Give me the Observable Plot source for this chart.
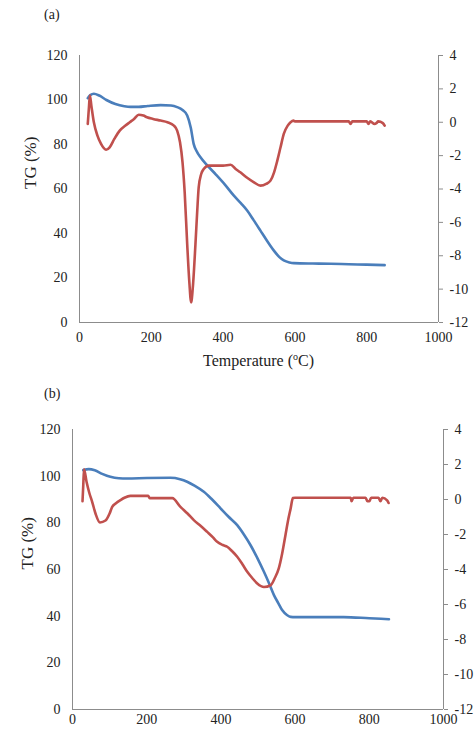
<!DOCTYPE html>
<html><head><meta charset="utf-8">
<script src="https://cdn.jsdelivr.net/npm/d3@7"></script>
<script src="https://cdn.jsdelivr.net/npm/@observablehq/plot@0.6"></script>
<style>
body{margin:0;background:#fff;font-family:"Liberation Serif","Times New Roman",serif;width:476px;color:#222;}
.tag{font-size:14px;padding-left:44px;}
#tagA{height:30px;line-height:30px;}
#tagB{height:36px;line-height:44px;overflow:visible;}
.xlabel{height:22px;line-height:22px;font-size:16px;padding-left:79px;width:359px;text-align:center;}
.xlabel sup{font-size:10px;line-height:0;vertical-align:6px;}
svg{display:block;}
</style></head><body>
<div id="tagA" class="tag">(a)</div>
<div id="chartA"></div>
<div class="xlabel">Temperature (<sup>o</sup>C)</div>
<div id="tagB" class="tag">(b)</div>
<div id="chartB"></div>
<script>
// ---- tick labels ----
const xTicks = [0, 200, 400, 600, 800, 1000];
const tgTicks = [0, 20, 40, 60, 80, 100, 120];
const dtgTicks = [-12, -10, -8, -6, -4, -2, 0, 2, 4];

// ---- panel (a) ----
const tempA_TG = [23,30,40,55,75,100,125,142,165,190,226,255,272,287,300,310,318,328,337,356,380,405,430,450,467,485,504,520,541,556,569,585,597,650,700,750,800,850];
const tgA      = [100.8,102.2,102.8,102.0,100.0,98.2,97.2,96.9,96.9,97.3,97.7,97.5,96.8,95.5,93,87.5,80.3,76.5,74.3,70.6,66.5,62,57,53.5,50.3,46,41.3,37.3,32.4,29.5,27.9,27,26.7,26.5,26.4,26.2,26.0,25.8];
const tempA_DTG = [23,26,29,33,40,50,60,74,84,97,112,128,140,152,165,178,188,205,226,245,263,272,280,287,293,300,306,311,316,323,328,332,339,346,360,380,400,421,435,448,465,486,504,520,532,542,551,560,569,580,588,596,600,700,750,755,760,800,805,810,822,827,832,845,850];
const dtgA      = [-0.1,0.8,1.6,1.0,0.0,-0.8,-1.3,-1.65,-1.5,-1.0,-0.5,-0.2,0.0,0.2,0.45,0.4,0.3,0.2,0.1,0.0,-0.2,-0.5,-1.2,-2.4,-4.2,-7.3,-9.6,-10.8,-9.8,-7.3,-5.3,-3.9,-3.1,-2.8,-2.6,-2.6,-2.6,-2.55,-2.8,-3.0,-3.3,-3.6,-3.8,-3.7,-3.5,-3.0,-2.3,-1.5,-0.7,-0.2,0.0,0.1,0.05,0.05,0.05,-0.1,0.05,0.05,-0.1,0.05,-0.1,-0.05,0.05,-0.05,-0.2];

// ---- panel (b) ----
const tempB_TG = [29,44,60,80,102,125,147,200,264,290,309,330,354,375,399,420,444,462,480,498,516,530,543,555,565,578,588,600,731,800,853];
const tgB      = [102.6,103,102.5,101,99.7,99.1,99,99.2,99.3,98.7,97.6,95.8,93.3,90.2,86.2,82.7,79,75,70.4,65,59,54,49,45.5,42.6,40.5,39.7,39.6,39.6,39.1,38.7];
const tempB_DTG = [27,29,31,38,45,53,62,74,89,100,107,118,129,140,156,204,208,269,291,310,327,345,363,378,390,405,417,430,444,458,471,485,498,516,534,545,556,565,574,581,588,594,600,750,752,757,790,795,800,805,825,830,835,848,852];
const dtgB      = [-0.1,0.8,1.73,1.0,0.4,-0.13,-0.8,-1.31,-1.2,-0.8,-0.42,-0.2,-0.04,0.1,0.21,0.21,0.08,0.08,-0.42,-0.8,-1.18,-1.5,-1.85,-2.15,-2.42,-2.6,-2.7,-2.95,-3.27,-3.7,-4.13,-4.5,-4.8,-5.0,-4.9,-4.5,-3.94,-3.1,-2.04,-1.2,-0.51,0.08,0.1,0.1,-0.1,0.1,0.1,-0.1,-0.1,0.1,0.1,-0.1,0.1,-0.05,-0.2];

const k = 120 / 16; // DTG (-12..4) mapped onto TG (0..120) frame
const toLeft = v => (v + 12) * k;

const BLUE = "#4a7ebb", RED = "#c0504d", AX = "#8c8c8c";

function panel(tT, tg, tD, dtg, m) {
  const tgData = tT.map((t, i) => ({t, v: tg[i]}));
  const dtgData = tD.map((t, i) => ({t, v: dtg[i]}));
  return Plot.plot({
    width: 476, height: m.height,
    marginTop: m.top, marginBottom: m.bottom, marginLeft: m.left, marginRight: m.right,
    style: {fontFamily: "'Liberation Serif','Times New Roman',serif", fontSize: "14px", color: "#222", background: "#fff"},
    x: {domain: [0, 1000]},
    y: {domain: [0, 120]},
    marks: [
      Plot.axisX({ticks: xTicks, tickSize: 0, tickPadding: m.xPad, label: null, tickFormat: d => String(d)}),
      Plot.axisY({ticks: tgTicks, tickSize: 0, tickPadding: 12, label: null, tickFormat: d => String(d)}),
      Plot.axisY({anchor: "right", ticks: dtgTicks.map(toLeft), tickSize: 4, tickPadding: 7, stroke: AX, label: null,
                  tickFormat: d => String(Math.round(d / k - 12))}),
      Plot.text(["TG (%)"], {frameAnchor: "left", dx: m.labelDx, rotate: -90, fontSize: 17, fill: "#222"}),
      Plot.ruleX([0], {stroke: AX}),
      Plot.ruleX([1000], {stroke: AX}),
      Plot.ruleY([0], {stroke: AX}),
      Plot.line(tgData, {x: "t", y: "v", stroke: BLUE, strokeWidth: 2.6, curve: "monotone-x"}),
      Plot.line(dtgData, {x: "t", y: d => toLeft(d.v), stroke: RED, strokeWidth: 2.6, curve: "monotone-x"})
    ]
  });
}

document.getElementById("chartA").append(
  panel(tempA_TG, tgA, tempA_DTG, dtgA, {height: 320, top: 25, bottom: 28, left: 79, right: 38, labelDx: -49, xPad: 10}));
document.getElementById("chartB").append(
  panel(tempB_TG, tgB, tempB_DTG, dtgB, {height: 322, top: 21, bottom: 21, left: 72, right: 33, labelDx: -45, xPad: 5}));
</script>
</body></html>
